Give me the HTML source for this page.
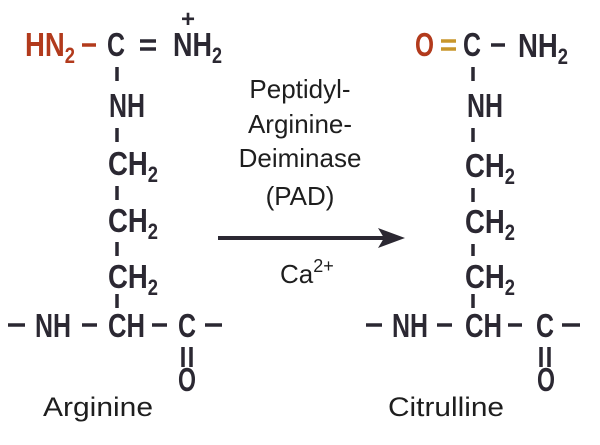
<!DOCTYPE html>
<html><head><meta charset="utf-8"><style>
html,body{margin:0;padding:0;background:#fff}
svg{display:block}
.b{font-family:"Liberation Sans",sans-serif;font-weight:bold;font-size:33px;fill:#2b2832}
.s{font-size:22px}
.r{font-family:"Liberation Sans","DejaVu Sans",sans-serif;font-size:26px;fill:#1e1e1e}
.red{fill:#b23a1c}
line{stroke:#2b2832;stroke-width:3.5}
</style></head><body>
<svg width="600" height="445" viewBox="0 0 600 445" xmlns="http://www.w3.org/2000/svg">
<!-- Arginine -->
<text class="b red" x="25" y="56" textLength="50" lengthAdjust="spacingAndGlyphs">HN<tspan class="s" dy="7">2</tspan></text>
<line x1="82" y1="45" x2="96" y2="45" style="stroke:#b23a1c"/>
<text class="b" x="107" y="56" textLength="18" lengthAdjust="spacingAndGlyphs">C</text>
<line x1="140" y1="41" x2="156" y2="41"/><line x1="140" y1="49" x2="156" y2="49"/>
<text class="b" x="173" y="56" textLength="49" lengthAdjust="spacingAndGlyphs">NH<tspan class="s" dy="7">2</tspan></text>
<text class="b" x="181" y="27" style="font-size:24px">+</text>
<line x1="117" y1="67" x2="117" y2="81"/>
<text class="b" x="109" y="117" textLength="36" lengthAdjust="spacingAndGlyphs">NH</text>
<line x1="117" y1="128" x2="117" y2="142"/>
<text class="b" x="108" y="175" textLength="50" lengthAdjust="spacingAndGlyphs">CH<tspan class="s" dy="7">2</tspan></text>
<line x1="117" y1="186" x2="117" y2="200"/>
<text class="b" x="108" y="232" textLength="50" lengthAdjust="spacingAndGlyphs">CH<tspan class="s" dy="7">2</tspan></text>
<line x1="117" y1="242" x2="117" y2="256"/>
<text class="b" x="108" y="288" textLength="50" lengthAdjust="spacingAndGlyphs">CH<tspan class="s" dy="7">2</tspan></text>
<line x1="117" y1="294" x2="117" y2="308"/>
<line x1="8" y1="325" x2="25" y2="325"/>
<text class="b" x="35" y="337" textLength="36" lengthAdjust="spacingAndGlyphs">NH</text>
<line x1="82" y1="325" x2="97" y2="325"/>
<text class="b" x="108" y="337" textLength="37" lengthAdjust="spacingAndGlyphs">CH</text>
<line x1="152" y1="325" x2="167" y2="325"/>
<text class="b" x="178" y="337" textLength="18" lengthAdjust="spacingAndGlyphs">C</text>
<line x1="205" y1="325" x2="222" y2="325"/>
<line x1="183" y1="347" x2="183" y2="367"/><line x1="191" y1="347" x2="191" y2="367"/>
<text class="b" x="178" y="391" textLength="18" lengthAdjust="spacingAndGlyphs">O</text>
<text class="r" x="43" y="416" style="font-size:27px" textLength="110" lengthAdjust="spacingAndGlyphs">Arginine</text>
<!-- middle -->
<text class="r" x="300" y="98" text-anchor="middle">Peptidyl-</text>
<text class="r" x="300" y="133" text-anchor="middle">Arginine-</text>
<text class="r" x="300" y="167" text-anchor="middle">Deiminase</text>
<text class="r" x="300" y="205" text-anchor="middle">(PAD)</text>
<line x1="218" y1="238" x2="385" y2="238" style="stroke-width:4"/>
<polygon points="378,228 405,238 378,248 384,238" fill="#2b2832"/>
<text class="r" x="280" y="283">Ca<tspan style="font-size:18px" dy="-11">2+</tspan></text>
<!-- Citrulline -->
<text class="b red" x="415" y="56" textLength="19" lengthAdjust="spacingAndGlyphs">O</text>
<line x1="441" y1="41" x2="456" y2="41" style="stroke:#c8962a"/><line x1="441" y1="49" x2="456" y2="49" style="stroke:#c8962a"/>
<text class="b" x="463" y="56" textLength="18" lengthAdjust="spacingAndGlyphs">C</text>
<line x1="491" y1="45" x2="505" y2="45"/>
<text class="b" x="518" y="57" textLength="50" lengthAdjust="spacingAndGlyphs">NH<tspan class="s" dy="7">2</tspan></text>
<line x1="473" y1="67" x2="473" y2="81"/>
<text class="b" x="467" y="117" textLength="36" lengthAdjust="spacingAndGlyphs">NH</text>
<line x1="473" y1="128" x2="473" y2="142"/>
<text class="b" x="465" y="177" textLength="50" lengthAdjust="spacingAndGlyphs">CH<tspan class="s" dy="7">2</tspan></text>
<line x1="473" y1="188" x2="473" y2="202"/>
<text class="b" x="465" y="233" textLength="50" lengthAdjust="spacingAndGlyphs">CH<tspan class="s" dy="7">2</tspan></text>
<line x1="473" y1="244" x2="473" y2="256"/>
<text class="b" x="465" y="288" textLength="50" lengthAdjust="spacingAndGlyphs">CH<tspan class="s" dy="7">2</tspan></text>
<line x1="473" y1="294" x2="473" y2="308"/>
<line x1="366" y1="325" x2="382" y2="325"/>
<text class="b" x="392" y="337" textLength="36" lengthAdjust="spacingAndGlyphs">NH</text>
<line x1="437" y1="325" x2="452" y2="325"/>
<text class="b" x="465" y="337" textLength="37" lengthAdjust="spacingAndGlyphs">CH</text>
<line x1="508" y1="325" x2="522" y2="325"/>
<text class="b" x="536" y="337" textLength="18" lengthAdjust="spacingAndGlyphs">C</text>
<line x1="562" y1="325" x2="580" y2="325"/>
<line x1="541" y1="347" x2="541" y2="367"/><line x1="549" y1="347" x2="549" y2="367"/>
<text class="b" x="537" y="391" textLength="18" lengthAdjust="spacingAndGlyphs">O</text>
<text class="r" x="388" y="416" style="font-size:27px" textLength="116" lengthAdjust="spacingAndGlyphs">Citrulline</text>
</svg>
</body></html>
